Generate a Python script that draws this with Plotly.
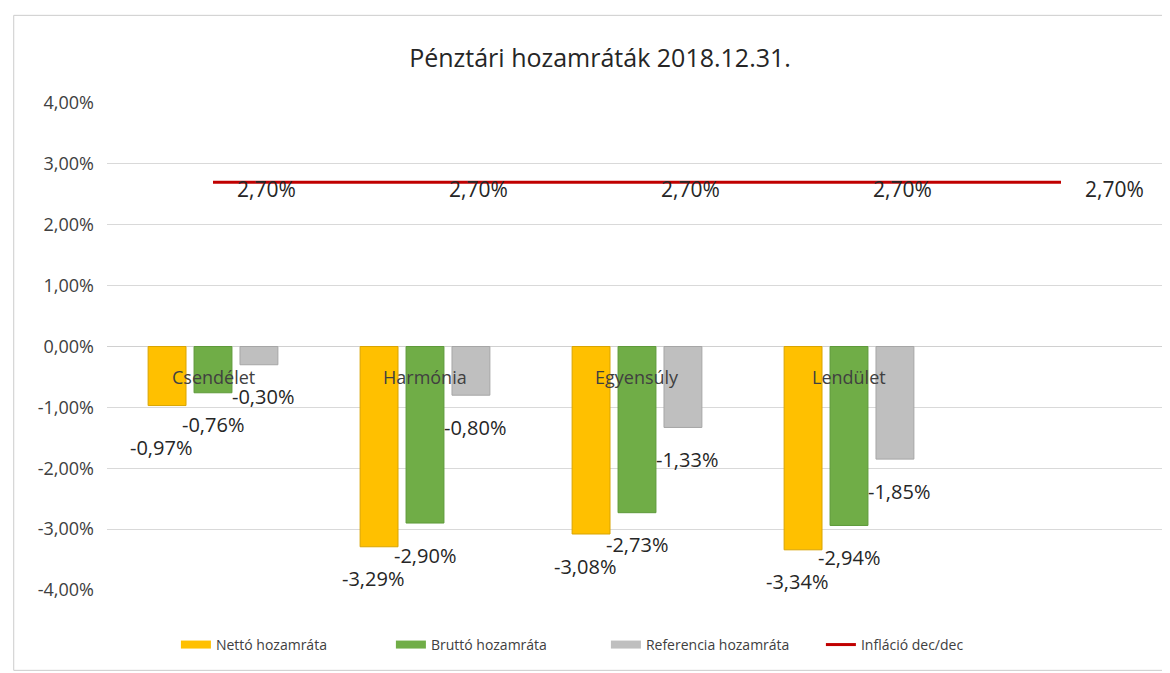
import plotly.graph_objects as go

categories = ["Csendélet", "Harmónia", "Egyensúly", "Lendület"]
netto = [-0.97, -3.29, -3.08, -3.34]
brutto = [-0.76, -2.90, -2.73, -2.94]
referencia = [-0.30, -0.80, -1.33, -1.85]
inflacio = [2.70, 2.70, 2.70, 2.70, 2.70]
series_names = ["Nettó hozamráta", "Bruttó hozamráta", "Referencia hozamráta", "Infláció dec/dec"]
y_ticks = [4, 3, 2, 1, 0, -1, -2, -3, -4]
title = "Pénztári hozamráták 2018.12.31."

def pct(v):
    return f"{v:.2f}".replace(".", ",") + "%"

FONT = "Open Sans"
colors = ["#FFC000", "#70AD47", "#BFBFBF", "#C00000"]
edges = ["#D9A400", "#5E9A3A", "#A6A6A6"]

x_bar = list(range(len(categories)))
x_line = list(range(len(inflacio)))

fig = go.Figure()
for vals, name, col, ec in zip([netto, brutto, referencia], series_names[:3], colors[:3], edges):
    fig.add_trace(go.Bar(x=x_bar, y=vals, name=name, showlegend=False,
                         marker=dict(color=col, line=dict(color=ec, width=1))))

fig.add_trace(go.Scatter(
    x=x_line, y=inflacio, name=series_names[3], mode="lines", showlegend=False,
    line=dict(color=colors[3], width=3),
))

# legend entries (wide swatches like Excel)
for name, col, w in zip(series_names, colors, [8, 8, 8, 3]):
    fig.add_trace(go.Scatter(x=[None], y=[None], name=name, mode="lines",
                             line=dict(color=col, width=w)))

annotations = []
shift_px = 46
label_yshift = {(0, 0): -42}
for j, vals in enumerate([netto, brutto, referencia]):
    for i, v in enumerate(vals):
        annotations.append(dict(
            x=x_bar[i], y=v, xref="x", yref="y", text=pct(v), showarrow=False,
            xshift=(j - 1) * shift_px + (-6 if j == 0 else (4 if j == 2 else 0)),
            yshift=label_yshift.get((j, i), -32),
            font=dict(size=20, color="#262626", family=FONT),
        ))
for i, v in enumerate(inflacio):
    annotations.append(dict(
        x=x_line[i], y=v, xref="x", yref="y", text=pct(v), showarrow=False,
        xanchor="left", xshift=22, yshift=-7,
        font=dict(size=21, color="#262626", family=FONT),
    ))
for i, c in enumerate(categories):
    annotations.append(dict(
        x=x_bar[i], y=0, xref="x", yref="y", text=c, showarrow=False,
        yshift=-30, font=dict(size=18, color="#404040", family=FONT),
    ))

fig.update_layout(
    width=1170, height=673,
    margin=dict(l=99, r=11, t=95, b=91),
    paper_bgcolor="white", plot_bgcolor="white",
    title=dict(text=title, x=0.506, xanchor="center", y=0.926, yanchor="middle",
               font=dict(size=25, color="#262626", family=FONT)),
    barmode="group", bargap=0.35, bargroupgap=0.175,
    xaxis=dict(range=[-0.5, len(inflacio) - 0.5], showticklabels=False, showgrid=False,
               zeroline=False, showline=False, ticks=""),
    yaxis=dict(range=[-4, 4], tickvals=y_ticks, ticktext=[pct(v) for v in y_ticks],
               showgrid=True, gridcolor="#D9D9D9", gridwidth=1, zeroline=True,
               zerolinecolor="#D0D0D0", zerolinewidth=1, ticklabelstandoff=12,
               tickfont=dict(size=18, color="#404040", family=FONT), ticks="", ticklen=0),
    legend=dict(orientation="h", x=0.065, xanchor="left", y=-0.08, yanchor="top",
                font=dict(size=14, color="#404040", family=FONT),
                entrywidth=170, entrywidthmode="pixels", traceorder="normal"),
    annotations=annotations,
    shapes=[dict(type="rect", xref="paper", yref="paper", x0=-0.088, x1=1.002, y0=-0.165, y1=1.18,
                 line=dict(color="#CCCCCC", width=1), fillcolor="rgba(0,0,0,0)", layer="below")],
)

fig.write_html("out.html")
